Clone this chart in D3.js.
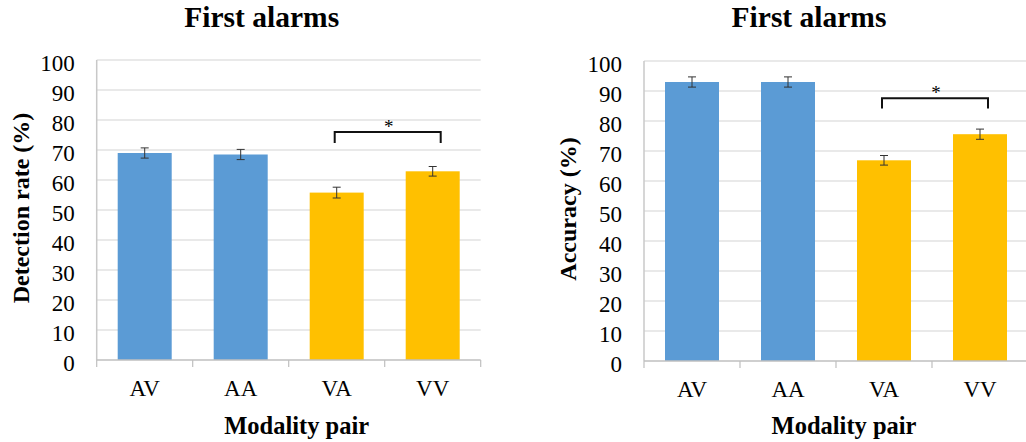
<!DOCTYPE html>
<html>
<head>
<meta charset="utf-8">
<script src="https://cdn.jsdelivr.net/npm/d3@7"></script>
<style>
  html, body { margin: 0; padding: 0; background: #ffffff; }
  svg { display: block; }
  text { font-family: "Liberation Serif", "Times New Roman", serif; fill: #000; }
</style>
</head>
<body>
<svg id="chart" width="1026" height="442"></svg>
<script>
// ---- data ----
const categories = ["AV", "AA", "VA", "VV"];
const detectionRate = [69.0, 68.5, 55.8, 62.9];
const detectionErr = [1.7, 1.7, 1.8, 1.6];
const accuracy = [93.0, 93.0, 66.9, 75.6];
const accuracyErr = [1.7, 1.7, 1.6, 1.7];
const yTicks = [0, 10, 20, 30, 40, 50, 60, 70, 80, 90, 100];
const chartTitles = ["First alarms", "First alarms"];
const yTitles = ["Detection rate (%)", "Accuracy (%)"];
const xTitle = "Modality pair";
const barColors = ["#5B9BD5", "#5B9BD5", "#FFC000", "#FFC000"];
// significance bracket between VA and VV: [top level, leg end level]
const detectionBracket = [76.0, 72.3];
const accuracyBracket = [87.6, 84.2];
const sigLabel = "*";

const svg = d3.select("#chart");

function panel(cfg) {
  const g = svg.append("g").attr("transform", `translate(${cfg.x0},${cfg.y0})`);
  const W = cfg.w, H = cfg.h;
  const x = d3.scaleBand().domain(categories).range([0, W]).padding(0);
  const y = d3.scaleLinear().domain([0, 100]).range([H, 0]);
  const bw = x.bandwidth();
  const barW = bw * 0.5625;

  // gridlines
  g.append("g").selectAll("line").data(yTicks.filter(t => t > 0)).join("line")
    .attr("x1", 0).attr("x2", W)
    .attr("y1", d => y(d)).attr("y2", d => y(d))
    .attr("stroke", "#D4D4D4").attr("stroke-width", 1.2);

  // left axis line
  g.append("line").attr("x1", 0).attr("x2", 0).attr("y1", y(100)).attr("y2", H)
    .attr("stroke", "#C8C8C8").attr("stroke-width", 1.5);

  // y axis labels via d3 axis
  const ya = g.append("g").call(d3.axisLeft(y).tickValues(yTicks).tickSize(0).tickPadding(22).tickFormat(d3.format("d")));
  ya.select(".domain").remove();
  ya.selectAll("text")
    .attr("font-family", "Liberation Serif, Times New Roman, serif")
    .attr("font-size", 23).attr("fill", "#000")
    .attr("dy", null).attr("y", 10);

  // bars
  g.append("g").selectAll("rect").data(cfg.values).join("rect")
    .attr("x", (d, i) => x(categories[i]) + (bw - barW) / 2)
    .attr("width", barW)
    .attr("y", d => y(d))
    .attr("height", d => H - y(d))
    .attr("fill", (d, i) => barColors[i]);

  // error bars
  const eb = g.append("g").attr("stroke", "#333").attr("stroke-width", 1);
  cfg.values.forEach((v, i) => {
    const cx = x(categories[i]) + bw / 2;
    const e = cfg.errs[i];
    eb.append("line").attr("x1", cx).attr("x2", cx).attr("y1", y(v + e)).attr("y2", y(v - e));
    eb.append("line").attr("x1", cx - 4).attr("x2", cx + 4).attr("y1", y(v + e)).attr("y2", y(v + e));
    eb.append("line").attr("x1", cx - 4).attr("x2", cx + 4).attr("y1", y(v - e)).attr("y2", y(v - e));
  });

  // bottom axis line and boundary ticks
  g.append("line").attr("x1", 0).attr("x2", W).attr("y1", H).attr("y2", H)
    .attr("stroke", "#BFBFBF").attr("stroke-width", 1.5);
  const bounds = categories.map(c => x(c)).concat([W]);
  g.append("g").selectAll("line").data(bounds).join("line")
    .attr("x1", d => d).attr("x2", d => d).attr("y1", H).attr("y2", H + 7)
    .attr("stroke", "#BFBFBF").attr("stroke-width", 1.2);

  // x labels via d3 axis
  const xa = g.append("g").attr("transform", `translate(0,${H})`)
    .call(d3.axisBottom(x).tickSize(0).tickPadding(0));
  xa.select(".domain").remove();
  xa.selectAll("text")
    .attr("font-family", "Liberation Serif, Times New Roman, serif")
    .attr("font-size", 23).attr("fill", "#000")
    .attr("dy", null).attr("y", 36);

  // significance bracket
  const bx1 = x("VA") + bw / 2 - 2, bx2 = x("VV") + bw / 2 + 8;
  g.append("path")
    .attr("d", `M${bx1},${y(cfg.bracket[1])}V${y(cfg.bracket[0])}H${bx2}V${y(cfg.bracket[1])}`)
    .attr("fill", "none").attr("stroke", "#111").attr("stroke-width", 2);
  g.append("text").attr("x", (bx1 + bx2) / 2 + 1).attr("y", y(cfg.bracket[0]) + 1)
    .attr("text-anchor", "middle").attr("font-size", 19).attr("fill", "#333").text(sigLabel);

  // titles
  g.append("text").attr("x", W / 2 - 27).attr("y", 26.7 - cfg.y0)
    .attr("text-anchor", "middle").attr("font-size", 29.5).attr("font-weight", "bold")
    .text(cfg.title);
  g.append("text").attr("x", W / 2 + 8).attr("y", 434 - cfg.y0)
    .attr("text-anchor", "middle").attr("font-size", 24.5).attr("font-weight", "bold")
    .text(xTitle);
  g.append("text")
    .attr("transform", `translate(${-68},${H / 2 - 2}) rotate(-90)`)
    .attr("text-anchor", "middle").attr("font-size", 24).attr("font-weight", "bold")
    .text(cfg.ytitle);
}

panel({ x0: 96.7, y0: 60, w: 384, h: 300, values: detectionRate, errs: detectionErr,
        bracket: detectionBracket, title: chartTitles[0], ytitle: yTitles[0] });
panel({ x0: 644, y0: 61, w: 384, h: 300, values: accuracy, errs: accuracyErr,
        bracket: accuracyBracket, title: chartTitles[1], ytitle: yTitles[1] });
</script>
</body>
</html>
